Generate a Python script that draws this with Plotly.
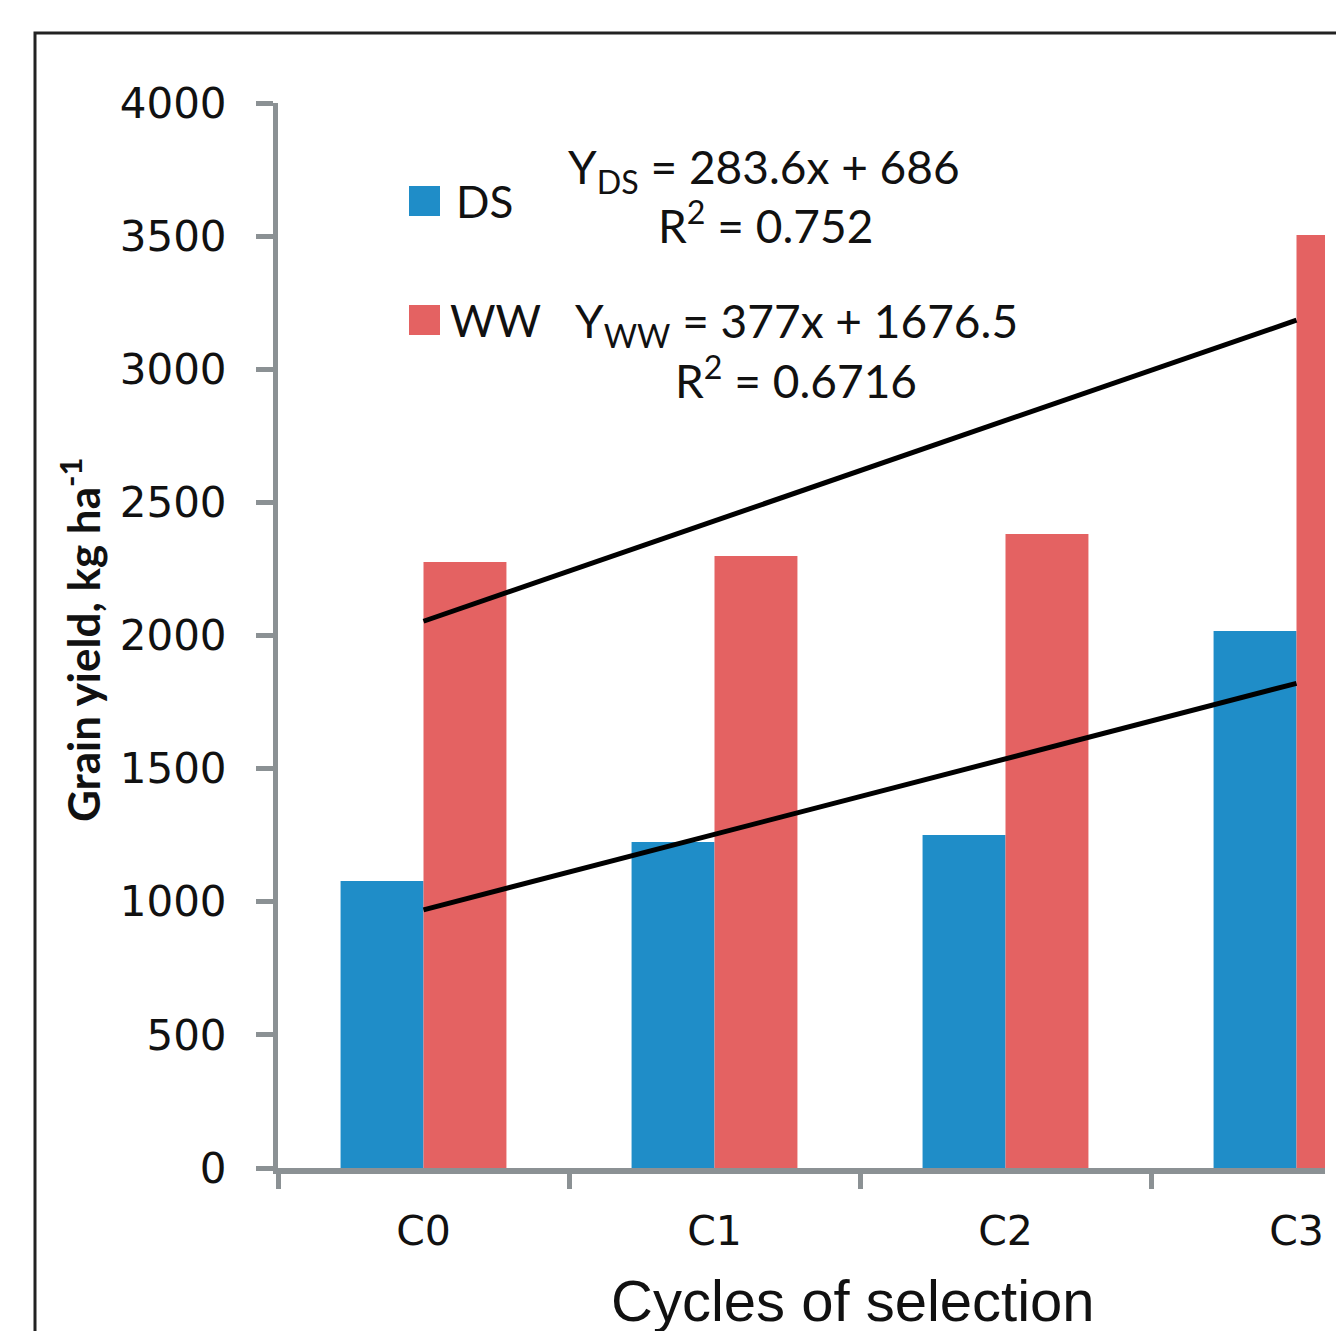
import plotly.graph_objects as go

# ---------------- data ----------------
cycles = ["C0", "C1", "C2", "C3"]
ds_yield = [1078, 1224, 1251, 2017]
ww_yield = [2276, 2299, 2381, 3504]

series_names = ["DS", "WW"]
trend_slope = [283.6, 377]
trend_intercept = [686, 1676.5]
trend_r2 = [0.752, 0.6716]

y_ticks = [0, 500, 1000, 1500, 2000, 2500, 3000, 3500, 4000]

# ---------------- styling ----------------
BLUE = "#1f8dc8"
RED = "#e46262"
AXIS = "#8b9194"

OFF = 8  # page body margin of the html page
W, H = 1344, 1331
# plot area in screenshot pixels: x 278..1325, y 103..1168
L, T = 278 - OFF, 103 - OFF
R = W - (1325 - OFF)
B = H - (1168 - OFF)
PW, PH = W - L - R, H - T - B


def px(xp):
    return (xp - OFF - L) / PW


def py(yp):
    return (H - B - (yp - OFF)) / PH


fig = go.Figure()
fig.add_trace(go.Bar(x=cycles, y=ds_yield, name=series_names[0],
                     marker=dict(color=BLUE, line=dict(width=0))))
fig.add_trace(go.Bar(x=cycles, y=ww_yield, name=series_names[1],
                     marker=dict(color=RED, line=dict(width=0))))

xs = list(range(1, len(cycles) + 1))
for s, b in zip(trend_slope, trend_intercept):
    fig.add_trace(go.Scatter(x=cycles, y=[s * x + b for x in xs], mode="lines",
                             line=dict(color="black", width=5),
                             showlegend=False, hoverinfo="skip"))

fig.update_layout(
    width=W, height=H,
    margin=dict(l=L, r=R, t=T, b=B),
    paper_bgcolor="white", plot_bgcolor="white",
    barmode="group", bargap=0.43, bargroupgap=0,
    showlegend=False,
    font=dict(family="DejaVu Sans", color="#111111"),
)

fig.update_xaxes(
    range=[-0.5, -0.5 + (PW) / 291.0],
    showline=True, linecolor=AXIS, linewidth=6,
    ticks="outside", tickson="boundaries", ticklen=15, tickwidth=5, tickcolor=AXIS,
    tickfont=dict(family="DejaVu Sans", size=41, color="#111111"),
    ticklabelstandoff=22,
    showgrid=False, zeroline=False,
)
fig.update_yaxes(
    range=[0, 4000], tickvals=y_ticks,
    showline=True, linecolor=AXIS, linewidth=5,
    ticks="outside", ticklen=17, tickwidth=5, tickcolor=AXIS,
    tickfont=dict(family="DejaVu Sans", size=42, color="#111111"),
    ticklabelstandoff=21,
    showgrid=False, zeroline=False,
)

# frame around the (cropped) figure
fig.add_shape(type="rect", xref="paper", yref="paper",
              x0=px(35), x1=px(1400), y0=py(1400), y1=py(33),
              line=dict(color="#222222", width=3), fillcolor="rgba(0,0,0,0)", layer="above")

# custom legend swatches
legend_colors = [BLUE, RED]
legend_y = [201, 320]
for c, yy, name, tx in zip(legend_colors, legend_y, series_names, [454, 448]):
    fig.add_shape(type="rect", xref="paper", yref="paper",
                  x0=px(409), x1=px(440), y0=py(yy + 15), y1=py(yy - 15),
                  line=dict(width=0), fillcolor=c)
    fig.add_annotation(xref="paper", yref="paper", x=px(tx), y=py(yy),
                       xanchor="left", yanchor="middle", showarrow=False,
                       text=name, font=dict(family="Lato", size=44, color="#111111"))

# regression equations
eq_centers = [(764, 170, 765, 223), (796, 324, 796, 377)]
for name, s, b, r2, (ex, ey, rx, ry) in zip(series_names, trend_slope, trend_intercept,
                                            trend_r2, eq_centers):
    fig.add_annotation(xref="paper", yref="paper", x=px(ex), y=py(ey),
                       xanchor="center", yanchor="middle", showarrow=False,
                       text=f"Y<sub>{name}</sub> = {s:g}x + {b:g}",
                       font=dict(family="Lato", size=46, color="#111111"))
    fig.add_annotation(xref="paper", yref="paper", x=px(rx), y=py(ry),
                       xanchor="center", yanchor="middle", showarrow=False,
                       text=f"R<sup>2</sup> = {r2:g}",
                       font=dict(family="Lato", size=46, color="#111111"))

# axis titles
fig.add_annotation(xref="paper", yref="paper", x=px(80), y=py(640),
                   xanchor="center", yanchor="middle", showarrow=False, textangle=-90,
                   text="<b>Grain yield, kg ha<sup>-1</sup></b>",
                   font=dict(family="Lato", size=44, color="#111111"))
fig.add_annotation(xref="paper", yref="paper", x=px(853), y=py(1300),
                   xanchor="center", yanchor="middle", showarrow=False,
                   text="Cycles of selection",
                   font=dict(family="Liberation Sans", size=58, color="#111111"))

fig.write_html("out.html")
